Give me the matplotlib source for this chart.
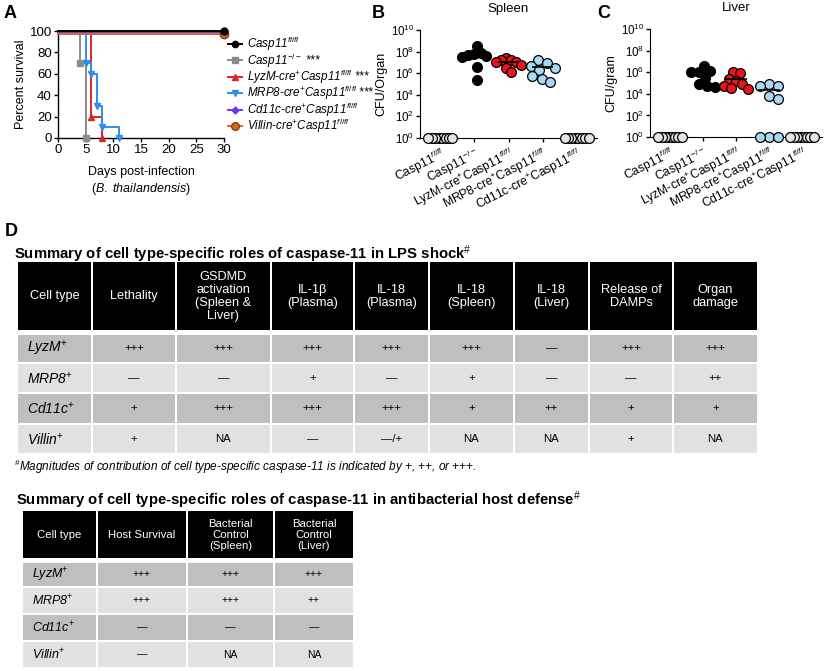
import numpy as np
import matplotlib
matplotlib.use('Agg')
import matplotlib.pyplot as plt
from matplotlib.patches import Rectangle
from matplotlib.ticker import NullLocator, FixedLocator

plt.rcParams['font.family'] = ['Liberation Sans', 'DejaVu Sans']
plt.rcParams['mathtext.fontset'] = 'custom'
plt.rcParams['mathtext.rm'] = 'Liberation Sans'
plt.rcParams['mathtext.it'] = 'Liberation Sans:italic'
plt.rcParams['mathtext.bf'] = 'Liberation Sans:bold'

# ---------------- Panel A data (Kaplan-Meier survival) ----------------
strain_labels = [r'Casp11$^{fl/fl}$', r'Casp11$^{-/-}$ ***',
                 r'LyzM-cre$^{+}$Casp11$^{fl/fl}$ ***',
                 r'MRP8-cre$^{+}$Casp11$^{fl/fl}$ ***',
                 r'Cd11c-cre$^{+}$Casp11$^{fl/fl}$',
                 r'Villin-cre$^{+}$Casp11$^{fl/fl}$']
days_flfl = [0, 30];              pct_flfl = [100, 100]
days_ko = [0, 4, 5];              pct_ko = [100, 70, 0]
days_lyzm = [0, 6, 8];            pct_lyzm = [100, 20, 0]
days_mrp8 = [0, 5, 6, 7, 8, 11];  pct_mrp8 = [100, 70, 60, 30, 10, 0]
days_cd11c = [0, 30];             pct_cd11c = [100, 100]
days_villin = [0, 30];            pct_villin = [100, 100]

# ---------------- Panels B/C data (log10 CFU) ----------------
groups_bc = [r'Casp11$^{fl/fl}$', r'Casp11$^{-/-}$',
             r'LyzM-cre$^{+}$Casp11$^{fl/fl}$',
             r'MRP8-cre$^{+}$Casp11$^{fl/fl}$',
             r'Cd11c-cre$^{+}$Casp11$^{fl/fl}$']
spleen_flfl = [0, 0, 0, 0, 0, 0, 0, 0]
spleen_ko = [8.5, 7.85, 7.75, 7.7, 7.55, 7.5, 6.6, 5.4]
spleen_lyzm = [7.4, 7.25, 7.2, 7.0, 7.0, 6.8, 6.45, 6.15]
spleen_mrp8 = [7.2, 6.9, 6.7, 6.5, 6.3, 5.7, 5.5, 5.2]
spleen_cd11c = [0, 0, 0, 0, 0, 0, 0, 0]
spleen_lines = [None, 7.7, 7.0, 6.6, None]

liver_flfl = [0, 0, 0, 0, 0, 0, 0, 0]
liver_ko = [6.6, 6.1, 6.0, 6.0, 5.5, 4.9, 4.7, 4.6]
liver_lyzm = [6.0, 5.9, 5.35, 5.2, 4.9, 4.7, 4.55, 4.4]
liver_mrp8 = [4.9, 4.7, 4.7, 3.8, 3.5, 0, 0, 0]
liver_cd11c = [0, 0, 0, 0, 0, 0, 0, 0]
liver_lines = [None, 5.95, 5.35, 4.35, None]

# ---------------- Panel D tables ----------------
t1_title = r'Summary of cell type-specific roles of caspase-11 in LPS shock$^{\#}$'
t1_header = ['Cell type', 'Lethality', 'GSDMD\nactivation\n(Spleen &\nLiver)',
             'IL-1β\n(Plasma)', 'IL-18\n(Plasma)', 'IL-18\n(Spleen)',
             'IL-18\n(Liver)', 'Release of\nDAMPs', 'Organ\ndamage']
cell_types = [r'LyzM$^{+}$', r'MRP8$^{+}$', r'Cd11c$^{+}$', r'Villin$^{+}$']
t1_rows = [['+++', '+++', '+++', '+++', '+++', '—', '+++', '+++'],
           ['—', '—', '+', '—', '+', '—', '—', '++'],
           ['+', '+++', '+++', '+++', '+', '++', '+', '+'],
           ['+', 'NA', '—', '—/+', 'NA', 'NA', '+', 'NA']]
t1_note = r'$^{\#}$Magnitudes of contribution of cell type-specific caspase-11 is indicated by +, ++, or +++.'

t2_title = r'Summary of cell type-specific roles of caspase-11 in antibacterial host defense$^{\#}$'
t2_header = ['Cell type', 'Host Survival', 'Bacterial\nControl\n(Spleen)',
             'Bacterial\nControl\n(Liver)']
t2_rows = [['+++', '+++', '+++'],
           ['+++', '+++', '++'],
           ['—', '—', '—'],
           ['—', 'NA', 'NA']]

# ---------------- figure ----------------
W, H = 825, 671
fig = plt.figure(figsize=(W / 100, H / 100), dpi=100)


def fpos(x0, x1, ytop, ybot):
    return [x0 / W, 1 - ybot / H, (x1 - x0) / W, (ybot - ytop) / H]


ov = fig.add_axes([0, 0, 1, 1])
ov.set_xlim(0, W)
ov.set_ylim(H, 0)
ov.axis('off')
ov.patch.set_alpha(0)

# panel letters
for lab, x, y in [('A', 4, 13), ('B', 372, 14), ('C', 597, 14), ('D', 5, 232)]:
    ov.text(x, y, lab, fontsize=13, fontweight='bold', va='center', ha='left')

# ---------------- Panel A ----------------
axA = fig.add_axes(fpos(58, 224, 31, 138))
styles = [
    dict(color='black', marker='o', mfc='black', mec='black', ms=5, dy=0),
    dict(color='#8c8c8c', marker='s', mfc='#8c8c8c', mec='#8c8c8c', ms=5, dy=0),
    dict(color='#d9262a', marker='^', mfc='#d9262a', mec='#d9262a', ms=5, dy=0),
    dict(color='#2e8ff0', marker='v', mfc='#2e8ff0', mec='#2e8ff0', ms=5, dy=0),
    dict(color='#6a35f0', marker='D', mfc='#6a35f0', mec='#6a35f0', ms=4, dy=-1.2),
    dict(color='#d2691e', marker='o', mfc='#d2691e', mec='#8b3a0f', ms=6, dy=-2.5),
]
curves = [(days_flfl, pct_flfl), (days_ko, pct_ko), (days_lyzm, pct_lyzm),
          (days_mrp8, pct_mrp8), (days_cd11c, pct_cd11c), (days_villin, pct_villin)]
order = [5, 4, 1, 2, 3, 0]
for i in order:
    d, p = curves[i]
    st = styles[i]
    pp = np.array(p, float) + (st['dy'] if p[-1] == 100 else 0)
    z = 3 + i * 0.1
    if i == 0:
        z = 4
    axA.step(d, pp, where='post', color=st['color'], lw=1.4, clip_on=False, zorder=z)
    axA.plot(d[1:], pp[1:], ls='none', marker=st['marker'], ms=st['ms'],
             mfc=st['mfc'], mec=st['mec'], clip_on=False, zorder=z + 0.5)
axA.set_xlim(0, 30)
axA.set_ylim(0, 100)
axA.set_xticks(np.arange(0, 31, 5))
axA.set_yticks(np.arange(0, 101, 20))
for s in ['top', 'right']:
    axA.spines[s].set_visible(False)
for s in ['left', 'bottom']:
    axA.spines[s].set_linewidth(1.0)
axA.tick_params(labelsize=9.5, length=3, width=1, pad=1.5)
axA.set_ylabel('Percent survival', fontsize=9, labelpad=2)
axA.set_xlabel('Days post-infection\n(' + r'$\mathit{B.\ thailandensis}$' + ')',
               fontsize=9, labelpad=7, linespacing=1.25)

# legend (drawn as a key beside panel A)
leg_top, leg_step = 44, 16.4
for k, (st, lab) in enumerate(zip(styles, strain_labels)):
    yy = leg_top + k * leg_step
    ov.plot([228, 242], [yy, yy], color=st['color'], lw=1.4)
    ov.plot([235], [yy], marker=st['marker'], ms=st['ms'] - 0.5,
            mfc=st['mfc'], mec=st['mec'], ls='none')
    ov.text(247, yy, lab, fontsize=8.4, style='italic', ha='left', va='center')


# ---------------- Panels B/C ----------------
def swarm(vals, px_x=34.0, px_y=10.8, diam=9.5, maxw=12.0):
    vals = np.asarray(vals, float)
    idx = np.argsort(-vals, kind='stable')
    placed = []
    offs = np.zeros(len(vals))
    cands = [0.0]
    for k in range(1, 80):
        cands += [k * 0.5, -k * 0.5]
    for i in idx:
        y = vals[i] * px_y
        for c in cands:
            ok = all((c - px) ** 2 + (y - py) ** 2 >= (diam * 0.98) ** 2 for px, py in placed)
            if ok:
                offs[i] = c
                placed.append((c, y))
                break
    mid = (offs.max() + offs.min()) / 2
    offs = offs - mid
    m = np.abs(offs).max()
    if m > maxw:
        offs = offs * maxw / m
    return offs / px_x


def dot_panel(ax, data, lines, colors, ylabel, title, ylab_x):
    for g, (vals, col) in enumerate(zip(data, colors)):
        vals = np.asarray(vals, float)
        offs = swarm(vals)
        ax.scatter(g + offs, 10 ** vals, s=50, c=col, edgecolors='black',
                   linewidths=0.9, clip_on=False, zorder=3)
        if lines[g] is not None:
            ax.hlines(10 ** lines[g], g - 0.32, g + 0.32, color='black', lw=1.2, zorder=4)
    ax.set_yscale('log')
    ax.set_ylim(1, 1e10)
    ax.set_xlim(-0.6, 4.6)
    ax.yaxis.set_major_locator(FixedLocator([10 ** k for k in range(0, 11, 2)]))
    ax.yaxis.set_minor_locator(NullLocator())
    ax.set_xticks(range(5))
    ax.set_xticklabels(groups_bc, rotation=27, ha='right', rotation_mode='anchor',
                       fontsize=8.7)
    for s in ['top', 'right']:
        ax.spines[s].set_visible(False)
    ax.tick_params(axis='y', labelsize=8.3, length=3, width=1, pad=1.2)
    ax.tick_params(axis='x', length=3, width=1, pad=2)
    ax.set_ylabel(ylabel, fontsize=9)
    ax.yaxis.set_label_coords(ylab_x, 0.5)
    ax.set_title(title, fontsize=9.5, pad=13)


zero_col = '#e4e4e4'
axB = fig.add_axes(fpos(420, 597, 30, 138))
dot_panel(axB, [spleen_flfl, spleen_ko, spleen_lyzm, spleen_mrp8, spleen_cd11c],
          spleen_lines, [zero_col, 'black', '#e8161b', '#a9d9f2', zero_col],
          'CFU/Organ', 'Spleen', -0.185)
axC = fig.add_axes(fpos(650, 822, 29, 137))
dot_panel(axC, [liver_flfl, liver_ko, liver_lyzm, liver_mrp8, liver_cd11c],
          liver_lines, [zero_col, 'black', '#e8161b', '#a9d9f2', zero_col],
          'CFU/gram', 'Liver', -0.19)


# ---------------- Panel D tables ----------------
def draw_table(edges, head_y, rows_y, header, rows, hfs, vfs, nfs):
    dark, light = '#bfbfbf', '#e1e1e1'
    for c in range(len(edges) - 1):
        x0, x1 = edges[c] + 1, edges[c + 1] - 1
        ov.add_patch(Rectangle((x0, head_y[0]), x1 - x0, head_y[1] - head_y[0],
                               fc='black', ec='none'))
        ov.text((x0 + x1) / 2, (head_y[0] + head_y[1]) / 2 + 0.5, header[c],
                color='white', fontsize=hfs, ha='center', va='center',
                linespacing=1.12)
    for r, (y0, y1) in enumerate(rows_y):
        fc = dark if r % 2 == 0 else light
        for c in range(len(edges) - 1):
            x0, x1 = edges[c] + 1, edges[c + 1] - 1
            ov.add_patch(Rectangle((x0, y0), x1 - x0, y1 - y0, fc=fc, ec='none'))
            if c == 0:
                ov.text(x0 + 9, (y0 + y1) / 2 + 0.5, cell_types[r], fontsize=nfs,
                        style='italic', ha='left', va='center')
            else:
                ov.text((x0 + x1) / 2, (y0 + y1) / 2, rows[r][c - 1],
                        fontsize=vfs, ha='center', va='center')


ov.text(14, 259, t1_title, fontsize=10.7, fontweight='bold', ha='left', va='baseline')
draw_table([17, 92, 176, 271, 354, 429, 514, 589, 673, 758], (262, 330),
           [(335, 362), (364, 392), (394, 423), (425, 453)],
           t1_header, t1_rows, hfs=9.2, vfs=8.2, nfs=10)
ov.text(14, 467, t1_note, fontsize=8.5, style='italic', ha='left', va='center')

ov.text(16, 505, t2_title, fontsize=10.7, fontweight='bold', ha='left', va='baseline')
draw_table([22, 97, 187, 274, 354], (511, 558),
           [(563, 586), (588, 613), (615, 640), (642, 667)],
           t2_header, t2_rows, hfs=8.2, vfs=7.5, nfs=9)

fig.savefig('out.png', dpi=100)
